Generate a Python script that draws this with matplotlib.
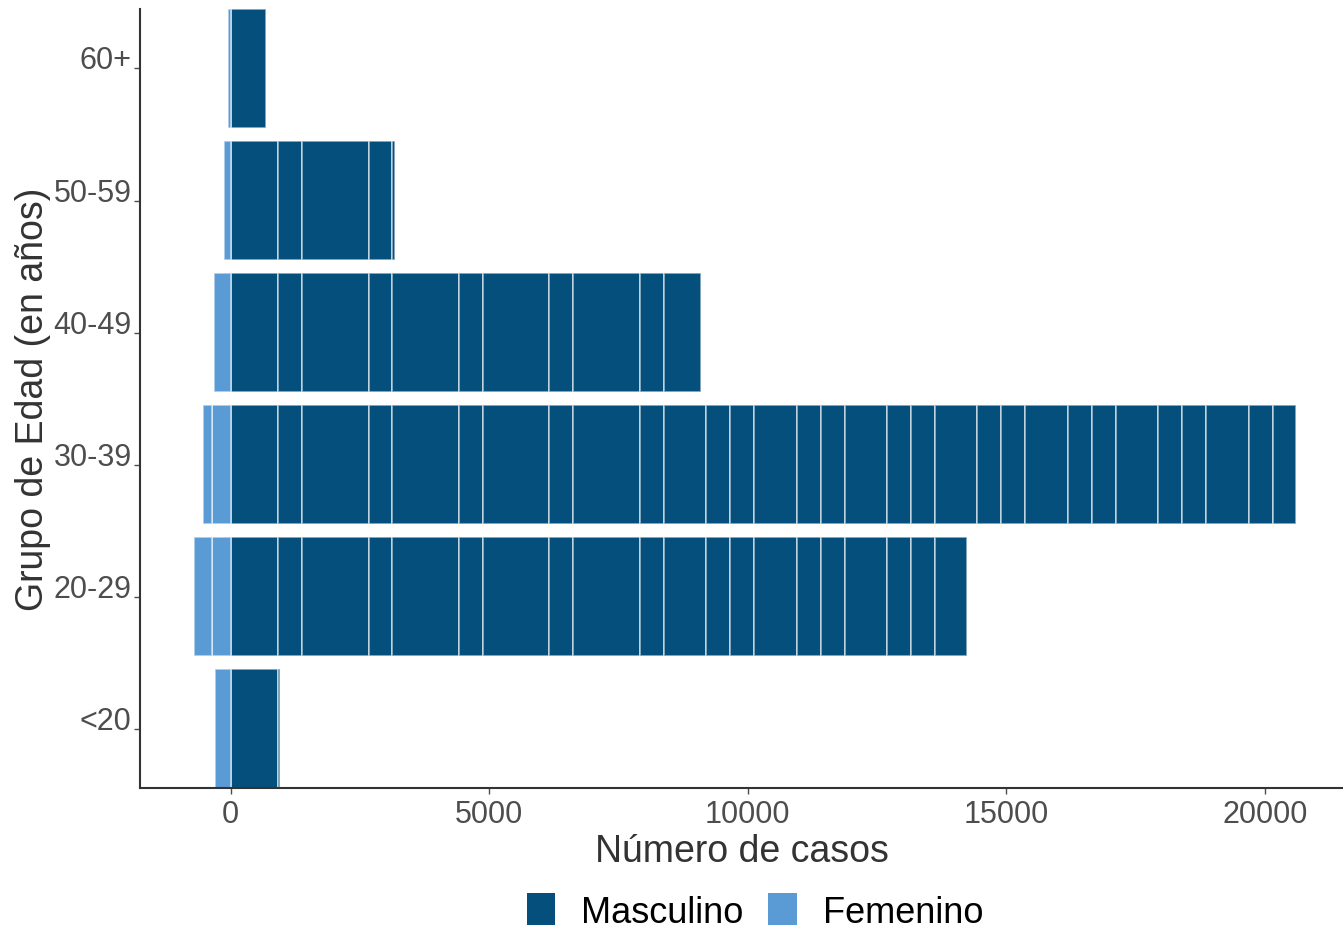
import numpy as np
import matplotlib
matplotlib.use("Agg")
import matplotlib.pyplot as plt
from matplotlib.patches import Patch

plt.rcParams['font.family'] = ['Liberation Sans', 'DejaVu Sans']

grupos = ['<20', '20-29', '30-39', '40-49', '50-59', '60+']

# casos masculinos, por segmento (apilados hacia la derecha)
masc_lt20 = [909, 45]
masc_20_29 = [909, 470, 1290, 457, 1284, 464, 1288, 465, 1290, 458, 818, 465,
              464, 826, 464, 464, 813, 470, 464, 613]
masc_30_39 = [909, 470, 1290, 457, 1284, 464, 1288, 465, 1290, 458, 818, 465,
              464, 826, 464, 464, 813, 470, 464, 818, 464, 465, 820, 464, 464,
              818, 464, 464, 827, 464, 450]
masc_40_49 = [909, 470, 1290, 457, 1284, 464, 1288, 465, 1290, 458, 728]
masc_50_59 = [909, 470, 1290, 457, 52]
masc_60 = [683]

# casos femeninos, por segmento (apilados hacia la izquierda)
fem_lt20 = [296]
fem_20_29 = [367, 342]
fem_30_39 = [367, 174]
fem_40_49 = [329]
fem_50_59 = [135]
fem_60 = [46]

masculino = [masc_lt20, masc_20_29, masc_30_39, masc_40_49, masc_50_59, masc_60]
femenino = [fem_lt20, fem_20_29, fem_30_39, fem_40_49, fem_50_59, fem_60]

col_m = '#054f7c'
col_f = '#5b9bd5'
borde = (1, 1, 1, 0.6)

fig = plt.figure(figsize=(13.43, 9.29), dpi=100)
ax = fig.add_axes([0.1042, 0.1505, 0.8958, 0.8387])

for i, segs in enumerate(masculino):
    segs = np.array(segs)
    left = np.concatenate([[0], np.cumsum(segs)[:-1]])
    ax.barh([i] * len(segs), segs, left=left, height=0.9, color=col_m,
            edgecolor=borde, linewidth=1.2)

for i, segs in enumerate(femenino):
    segs = -np.array(segs)
    left = np.concatenate([[0], np.cumsum(segs)[:-1]])
    ax.barh([i] * len(segs), segs, left=left, height=0.9, color=col_f,
            edgecolor=borde, linewidth=1.2)

ax.set_xlim(-1754, 21514)
ax.set_ylim(-0.45, 5.45)
ax.set_xticks([0, 5000, 10000, 15000, 20000])
ax.set_yticks(range(len(grupos)))
ax.set_yticklabels(grupos)
for lab in ax.get_yticklabels():
    lab.set_va('baseline')

ax.tick_params(axis='both', labelsize=22, colors='#4d4d4d', length=4, width=1)
ax.tick_params(axis='x', pad=4)
ax.tick_params(axis='y', pad=2)
for s in ['top', 'right']:
    ax.spines[s].set_visible(False)
for s in ['left', 'bottom']:
    ax.spines[s].set_linewidth(1.5)
    ax.spines[s].set_color('#333333')

ax.set_xlabel('Número de casos', fontsize=27, color='#333333', labelpad=3)
ax.set_ylabel('Grupo de Edad (en años)', fontsize=27, color='#333333', labelpad=2)

handles = [Patch(facecolor=col_m, label='Masculino'),
           Patch(facecolor=col_f, label='Femenino')]
fig.legend(handles=handles, loc='center', bbox_to_anchor=(0.562, 0.018), ncol=2,
           frameon=False, fontsize=26, handlelength=0.8, handleheight=1.0,
           handletextpad=0.7, columnspacing=0.7)

fig.savefig('out.png', dpi=100)
